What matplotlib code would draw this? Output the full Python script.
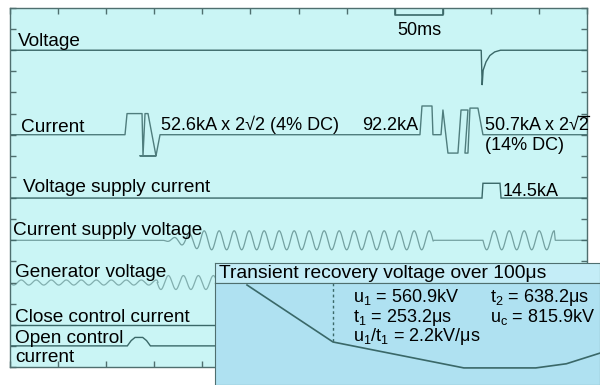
import numpy as np
import matplotlib
matplotlib.use("Agg")
import matplotlib.pyplot as plt
from matplotlib.lines import Line2D
from matplotlib.textpath import TextPath
from matplotlib.font_manager import FontProperties

plt.rcParams['font.family'] = ['Liberation Sans', 'DejaVu Sans']
plt.rcParams['mathtext.fontset'] = 'custom'
plt.rcParams['mathtext.rm'] = 'Liberation Sans'
plt.rcParams['mathtext.it'] = 'Liberation Sans:italic'
plt.rcParams['mathtext.sf'] = 'Liberation Sans'

# ---- oscillogram traces: time in ms, level in divisions ----
voltage_t = [0, 490, 491, 492, 495, 499, 504, 510, 600]
voltage_v = [15, 15, 13.35, 14.05, 14.45, 14.75, 14.92, 15, 15]

current_t = [0, 119.6, 121.7, 137.3, 138.3, 140.4, 143.5, 151.8, 135.2, 151.8, 156,
             426.3, 428.4, 438.8, 439.8, 448.2, 450.2, 455.4, 465.8, 469, 476.2,
             473.1, 476.2, 478.3, 486.6, 491.8, 600]
current_v = [11, 11, 12, 12, 10, 12, 12, 10, 10, 10, 11,
             11, 12.36, 12.36, 11, 11, 12.17, 10.13, 10.13, 12.17, 12.17,
             10.13, 10.13, 12.26, 12.26, 11, 11]

vsupply_t = [0, 490.8, 491.8, 509.5, 510.6, 600]
vsupply_v = [8, 8, 8.7, 8.7, 8, 8]

# sinusoidal sections: (start ms, end ms, amplitude, ramp-in ms)
csupply_sections = [(159, 440, 0.45, 40), (491.8, 566, 0.45, 0)]
csupply_level = 6.0
csupply_period = 15.6

gen_sections = [(0, 153, 0.12, 0), (153, 600, 0.33, 0)]
gen_level = 4.0
gen_period = 15.6

close_t = [0, 600]
close_v = [2, 2]

open_t = [0, 122, 126, 130, 138, 142, 146, 600]
open_v = [1, 1, 1.25, 1.4, 1.4, 1.25, 1, 1]

# ---- transient recovery voltage: time in us, voltage in kV ----
u1, t1 = 560.9, 253.2
uc, t2 = 815.9, 638.2
trv_t = [0, t1, t2, 850, 940, 1040]
trv_u = [0, u1, uc, uc, 775, 669]

TRACE = '#3a6868'
FRAME = '#4f6f6f'
BG_MAIN = '#caf5f5'
BG_INSET = '#afe1f1'
BG_HEAD = '#c4edf7'
FS = 13.0       # values
FS_LAB = 13.7   # channel names
FS_HEAD = 13.9  # inset title

fig = plt.figure(figsize=(6, 3.85), dpi=100, facecolor='white')


def fx(px):
    return px / 600


def fy(py):
    return 1 - py / 385


ax = fig.add_axes([fx(10), fy(367), 577 / 600, 359 / 385])
ax.set_facecolor(BG_MAIN)
ax.set_xlim(0, 600)
ax.set_ylim(0, 17)
ax.set_xticks(np.arange(0, 601, 50))
ax.set_yticks(np.arange(0, 18, 1))
ax.tick_params(direction='in', length=4, width=1, color=FRAME,
               top=True, right=True, labelleft=False, labelbottom=False)
for s in ax.spines.values():
    s.set_color(FRAME)
    s.set_linewidth(1.0)

kw = dict(color=TRACE, lw=1.0, solid_joinstyle='miter')
ax.plot(voltage_t, voltage_v, **kw)
ax.plot(current_t, current_v, color=TRACE, lw=1.0, alpha=0.85)
ax.plot(vsupply_t, vsupply_v, **kw)
ax.plot(close_t, close_v, **kw)
ax.plot(open_t, open_v, **kw)


def sine_trace(sections, level, period, t_end=600):
    ts, vs = [0.0], [level]
    for (a, b, amp, ramp) in sections:
        t = np.linspace(a, b, int((b - a) * 3) + 2)
        env = amp * np.clip((t - a) / ramp, 0, 1) if ramp else amp
        ts.extend(t)
        vs.extend(level - env * np.sin(2 * np.pi * (t - a) / period))
        ts.append(b + 1)
        vs.append(level)
    ts.append(t_end)
    vs.append(level)
    return np.array(ts), np.array(vs)


st, sv = sine_trace(csupply_sections, csupply_level, csupply_period)
ax.plot(st, sv, color=TRACE, lw=0.9, alpha=0.6)
gt, gv = sine_trace(gen_sections, gen_level, gen_period)
ax.plot(gt, gv, color=TRACE, lw=0.9, alpha=0.5)

# 50 ms scale bracket
ax.plot([400, 400, 450, 450], [16.95, 16.67, 16.67, 16.95], color=TRACE,
        lw=1.2, clip_on=False)
fig.text(fx(419), fy(35), '50ms', ha='center', va='baseline', fontsize=FS)

labels = [
    (18, 46, 'Voltage'),
    (21, 132, 'Current'),
    (23, 192, 'Voltage supply current'),
    (13, 235, 'Current supply voltage'),
    (15, 277, 'Generator voltage'),
    (15, 322, 'Close control current'),
    (15, 343, 'Open control'),
    (15, 362, 'current'),
]
for px, py, s in labels:
    fig.text(fx(px), fy(py), s, fontsize=FS_LAB, va='baseline', ha='left')

values = [
    (161, 130, '52.6kA x 2\u221a2 (4% DC)'),
    (503, 196, '14.5kA'),
    (485, 150, '(14% DC)'),
]
for px, py, s in values:
    fig.text(fx(px), fy(py), s, fontsize=FS, va='baseline', ha='left')
fig.text(fx(418), fy(130), '92.2kA', fontsize=FS, va='baseline', ha='right')

# radical with a bar over the 2
rad_x, rad_y = 485, 130
full = fig.text(fx(rad_x), fy(rad_y), '50.7kA x 2\u221a2', fontsize=FS,
                va='baseline', ha='left')
pre = fig.text(fx(rad_x), fy(rad_y), '50.7kA x 2\u221a', fontsize=FS,
               va='baseline', ha='left', alpha=0)
rend = fig.canvas.get_renderer()
bb_full = full.get_window_extent(rend)
bb_pre = pre.get_window_extent(rend)
glyph = TextPath((0, 0), '\u221a', size=FS * 100 / 72,
                 prop=FontProperties(family='Liberation Sans'))
top = glyph.get_extents().y1
bar_y = (385 - rad_y) + top - 0.4
fig.add_artist(Line2D([(bb_pre.x1 - 1) / 600, (bb_full.x1 + 0.5) / 600],
                      [bar_y / 385, bar_y / 385], transform=fig.transFigure,
                      color='black', lw=0.9))

# ---- inset: transient recovery voltage ----
head = fig.add_axes([fx(215), fy(283), 385 / 600, 20 / 385])
head.set_facecolor(BG_HEAD)
head.set_xticks([])
head.set_yticks([])
for s in head.spines.values():
    s.set_color(FRAME)
head.text(4 / 385, 0.45, 'Transient recovery voltage over 100\u03bcs',
          transform=head.transAxes, fontsize=FS_HEAD, va='center', ha='left')

ins = fig.add_axes([fx(215), 0, 385 / 600, 102 / 385])
ins.set_facecolor(BG_INSET)
ins.set_xlim(-94.2, 1039)
ins.set_ylim(984, -19.7)
ins.set_xticks([])
ins.set_yticks([])
for s in ins.spines.values():
    s.set_color(FRAME)
ins.plot(trv_t, trv_u, color=TRACE, lw=1.2)
ins.plot([t1, t1], [-19.7, u1], color=TRACE, lw=1.0, ls=(0, (2, 2)))

fig.text(fx(353), fy(302), r'u$_\mathregular{1}$ = %.1fkV' % u1, fontsize=FS,
         va='baseline')
fig.text(fx(353), fy(322), r't$_\mathregular{1}$ = %.1f$\mathregular{\mu}$s' % t1,
         fontsize=FS, va='baseline')
fig.text(fx(353), fy(341),
         r'u$_\mathregular{1}$/t$_\mathregular{1}$ = %.1fkV/$\mathregular{\mu}$s'
         % (u1 / t1), fontsize=FS, va='baseline')
fig.text(fx(490), fy(302), r't$_\mathregular{2}$ = %.1f$\mathregular{\mu}$s' % t2,
         fontsize=FS, va='baseline')
fig.text(fx(490), fy(322), r'u$_\mathregular{c}$ = %.1fkV' % uc, fontsize=FS,
         va='baseline')

fig.savefig('out.png', dpi=100, facecolor='white')
